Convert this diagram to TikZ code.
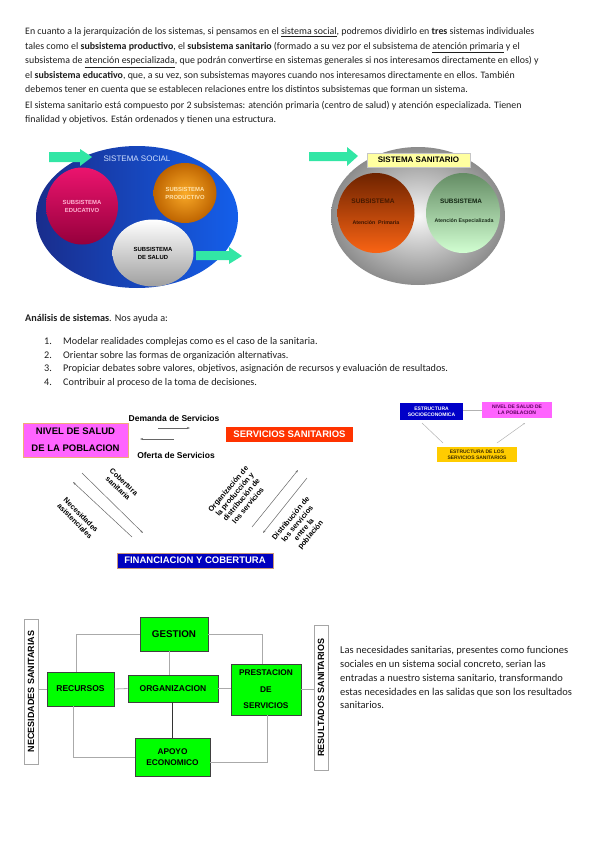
\documentclass[tikz,border=0pt]{standalone}
\usepackage{fontspec}
\setmainfont{Carlito}
\newfontfamily\arialf{Liberation Sans}
\usetikzlibrary{arrows.meta,shapes.geometric}
\definecolor{txt}{RGB}{30,30,30}
\definecolor{mint}{RGB}{50,230,165}
\definecolor{socdark}{RGB}{25,45,140}
\definecolor{socbright}{RGB}{20,95,235}
\definecolor{pinkA}{RGB}{235,20,110}
\definecolor{pinkB}{RGB}{150,0,60}
\definecolor{orgA}{RGB}{250,170,40}
\definecolor{orgB}{RGB}{190,100,0}
\definecolor{brA}{RGB}{110,35,0}
\definecolor{brB}{RGB}{250,100,20}
\definecolor{grA}{RGB}{100,140,100}
\definecolor{grB}{RGB}{210,255,210}
\definecolor{magbox}{RGB}{255,100,255}
\definecolor{redbox}{RGB}{255,51,0}
\definecolor{bluebox}{RGB}{0,0,190}
\definecolor{goldbox}{RGB}{255,204,0}
\definecolor{lime}{RGB}{0,255,0}
\definecolor{conn}{RGB}{170,170,170}
\begin{document}
\begin{tikzpicture}[x=1pt,y=-1pt,
  body/.style={anchor=base west, inner sep=0pt, text=txt, font=\fontsize{9.9}{11}\selectfont},
  listtxt/.style={anchor=base west, inner sep=0pt, text=txt, font=\fontsize{10.2}{11}\selectfont},
  sidetxt/.style={anchor=base west, inner sep=0pt, text=txt, font=\fontsize{10.5}{11}\selectfont},
  greenarrow/.style={fill=mint, draw=none},
  circ/.style={ellipse, inner sep=0pt, draw=none},
  lab/.style={font=\arialf\bfseries\fontsize{9.5}{11}\selectfont, inner sep=0pt},
  rotlab/.style={font=\arialf\bfseries\fontsize{7.4}{8.6}\selectfont, align=center, inner sep=0pt},
  thinarrow/.style={draw=gray!80!black, line width=0.5pt, -{Stealth[length=3pt,width=2pt]}},
  smallbox/.style={inner sep=0pt, align=center, font=\arialf\bfseries\fontsize{5}{6.2}\selectfont},
  gbox/.style={fill=lime, draw=black!75, line width=0.6pt, inner sep=0pt, align=center, font=\arialf\bfseries\fontsize{8.5}{10}\selectfont},
  vbox/.style={fill=white, draw=gray!70, line width=0.8pt, inner sep=0pt, minimum width=14pt, minimum height=145pt},
  gline/.style={draw=conn, line width=0.8pt},
  circtxt/.style={align=center, font=\arialf\bfseries\fontsize{5.9}{8}\selectfont}
]
\path[use as bounding box] (0,0) rectangle (599,848);

% ---------- paragraph 1 ----------
\node[body] (p1) at (25,35) {En cuanto a la jerarquización de los sistemas, si pensamos en el \underline{sistema social}, podremos dividirlo en \textbf{tres} sistemas individuales};
\node[body] (p2) at (25,49.5) {tales como el \textbf{subsistema productivo}, el \textbf{subsistema sanitario} (formado a su vez por el subsistema de \underline{atención primaria} y el};
\node[body] (p3) at (25,64) {subsistema de \underline{atención especializada}, que podrán convertirse en sistemas generales si nos interesamos directamente en ellos) y};
\node[body] (p4) at (25,78.5) {el \textbf{subsistema educativo}, que, a su vez, son subsistemas mayores cuando nos interesamos directamente en ellos. También};
\node[body] (p5) at (25,93) {debemos tener en cuenta que se establecen relaciones entre los distintos subsistemas que forman un sistema.};
\node[body] (q1) at (25,108.5) {El sistema sanitario está compuesto por 2 subsistemas: atención primaria (centro de salud) y atención especializada. Tienen};
\node[body] (q2) at (25,123) {finalidad y objetivos. Están ordenados y tienen una estructura.};

% ---------- sistema social ----------
\node[circ, minimum width=202pt, minimum height=142pt, left color=socdark, right color=socbright] (soc) at (137,217) {};
\node[font=\arialf\fontsize{8}{9}\selectfont, text={rgb,255:red,210;green,225;blue,255}, inner sep=0pt] (soct) at (137,159) {SISTEMA SOCIAL};
\node[circ, circtxt, minimum width=72pt, minimum height=77pt, top color=pinkA, bottom color=pinkB,
  text={rgb,255:red,255;green,180;blue,210}] (edu) at (82,206) {SUBSISTEMA\\EDUCATIVO};
\node[circ, circtxt, minimum width=63pt, minimum height=60pt, inner color=orgA, outer color=orgB,
  text={rgb,255:red,255;green,225;blue,170}] (prod) at (185,193) {SUBSISTEMA\\PRODUCTIVO};
\node[circ, circtxt, minimum width=81pt, minimum height=67pt, top color=white, bottom color=gray!75,
  text=black] (salud) at (153,253) {SUBSISTEMA\\DE SALUD};
\fill[greenarrow] (49,152) -- (80,152) -- (80,149) -- (92,157) -- (80,166) -- (80,162) -- (49,162) -- cycle;
\fill[greenarrow] (196,251) -- (229,251) -- (229,247) -- (242,256) -- (229,264) -- (229,260) -- (196,260) -- cycle;

% ---------- sistema sanitario ----------
\node[circ, minimum width=174pt, minimum height=138pt, inner color=white!94!gray, outer color=gray!90] (san) at (418,216) {};
\node[circ, minimum width=77pt, minimum height=80pt, top color=brA, bottom color=brB] (prim) at (376,213) {};
\node[circ, minimum width=74pt, minimum height=80pt, top color=grA, bottom color=grB] (esp) at (463,213) {};
\node[font=\arialf\bfseries\fontsize{6.6}{7}\selectfont, text={rgb,255:red,70;green,25;blue,0}, inner sep=0pt] (primt) at (373,201) {SUBSISTEMA};
\node[font=\arialf\bfseries\fontsize{5.3}{6}\selectfont, text={rgb,255:red,60;green,20;blue,0}, inner sep=0pt] (primu) at (376,223) {Atención\ \ Primaria};
\node[font=\arialf\bfseries\fontsize{6.4}{7}\selectfont, text={rgb,255:red,20;green,40;blue,20}, inner sep=0pt] (espt) at (461,201) {SUBSISTEMA};
\node[font=\arialf\bfseries\fontsize{5.3}{6}\selectfont, text={rgb,255:red,30;green,50;blue,30}, inner sep=0pt] (espu) at (464,221) {Atención Especializada};
\node[fill={rgb,255:red,255;green,255;blue,160}, draw=gray!45, minimum width=103pt, minimum height=14pt, inner sep=0pt,
  font=\arialf\bfseries\fontsize{8}{9}\selectfont] (santit) at (418.5,160) {SISTEMA SANITARIO};
\fill[greenarrow] (309,152) -- (347,152) -- (347,147) -- (358,156) -- (347,166) -- (347,161) -- (309,161) -- cycle;

% ---------- analisis ----------
\node[listtxt] (an) at (25,321.5) {\textbf{Análisis de sistemas}. Nos ayuda a:};
\node[listtxt] (n1) at (44,344.5) {1.};
\node[listtxt] (i1) at (63,344.5) {Modelar realidades complejas como es el caso de la sanitaria.};
\node[listtxt] (n2) at (44,358) {2.};
\node[listtxt] (i2) at (63,358) {Orientar sobre las formas de organización alternativas.};
\node[listtxt] (n3) at (44,371.5) {3.};
\node[listtxt] (i3) at (63,371.5) {Propiciar debates sobre valores, objetivos, asignación de recursos y evaluación de resultados.};
\node[listtxt] (n4) at (44,385) {4.};
\node[listtxt] (i4) at (63,385) {Contribuir al proceso de la toma de decisiones.};

% ---------- triangle diagram ----------
\node[lab, fill=magbox, draw={rgb,255:red,240;green,170;blue,120}, minimum width=105pt, minimum height=34pt, align=center,
  font=\arialf\bfseries\fontsize{9.5}{17}\selectfont] (nivel) at (75.5,440) {NIVEL DE SALUD\\DE LA POBLACION};
\node[lab, fill=redbox, text=white, minimum width=127pt, minimum height=15pt] (serv) at (289.5,434.5) {SERVICIOS SANITARIOS};
\node[lab, fill=bluebox, text=white, draw={rgb,255:red,200;green,150;blue,120}, minimum width=156pt, minimum height=15pt] (fin) at (195,560.5) {FINANCIACION Y COBERTURA};
\node[font=\arialf\bfseries\fontsize{8.5}{9}\selectfont, inner sep=0pt] (dem) at (174,418) {Demanda de Servicios};
\node[font=\arialf\bfseries\fontsize{8.5}{9}\selectfont, inner sep=0pt] (ofe) at (176,455) {Oferta de Servicios};
\coordinate (d1) at (158,428); \coordinate (d2) at (190,428);
\coordinate (o1) at (174,439); \coordinate (o2) at (140,439);
\draw[thinarrow] (d1) -- (d2);
\draw[thinarrow] (o1) -- (o2);
\coordinate (c1) at (82,473); \coordinate (c2) at (143,533);
\coordinate (m1) at (132,537); \coordinate (m2) at (73,482);
\coordinate (r1) at (252,527); \coordinate (r2) at (298,470);
\coordinate (s1) at (307,478); \coordinate (s2) at (263,533);
\draw[thinarrow] (c1) -- (c2);
\draw[thinarrow] (m1) -- (m2);
\draw[thinarrow] (r1) -- (r2);
\draw[thinarrow] (s1) -- (s2);
\node[rotlab, rotate=-43] (cob) at (121,485) {Cobertura\\sanitaria};
\node[rotlab, rotate=-45] (nece) at (78,518) {Necesidades\\asistenciales};
\node[rotlab, rotate=50] (orgl) at (238,497) {Organización de\\la producción y\\distribución de\\los servicios};
\node[rotlab, rotate=50] (dist) at (301,527) {Distribución de\\los servicios\\entre la\\población};

% ---------- small diagram ----------
\node[smallbox, fill={rgb,255:red,0;green,0;blue,200}, text=white, minimum width=63pt, minimum height=17pt] (est) at (431.5,411.5) {ESTRUCTURA\\SOCIOECONOMICA};
\node[smallbox, fill=magbox, text={rgb,255:red,90;green,0;blue,90}, minimum width=70pt, minimum height=16pt] (niv2) at (517,410) {NIVEL DE SALUD DE\\LA POBLACION};
\node[smallbox, fill=goldbox, text={rgb,255:red,60;green,45;blue,0}, minimum width=80pt, minimum height=15pt] (serv2) at (477,454.5) {ESTRUCTURA DE LOS\\SERVICIOS SANITARIOS};
\draw[draw=gray!60, line width=0.5pt] (est.east |- niv2.west) -- (niv2.west);
\coordinate (e1) at (422,423); \coordinate (e2) at (443,443);
\coordinate (e3) at (497,443); \coordinate (e4) at (525,423);
\draw[draw=gray!60, line width=0.5pt] (e1) -- (e2);
\draw[draw=gray!60, line width=0.5pt, -{Stealth[length=2pt,width=1.6pt]}] (e3) -- (e4);

% ---------- bottom diagram ----------
\node[vbox] (nec) at (31,691.5) {};
\node[rotate=90, font=\arialf\bfseries\fontsize{9}{10}\selectfont, inner sep=0pt] (nect) at (nec.center) {NECESIDADES SANITARIAS};
\node[vbox] (res) at (321,697.5) {};
\node[rotate=90, font=\arialf\bfseries\fontsize{9}{10}\selectfont, inner sep=0pt] (rest) at (res.center) {RESULTADOS SANITARIOS};
\node[gbox, minimum width=68pt, minimum height=34pt, font=\arialf\bfseries\fontsize{9.8}{11}\selectfont] (gest) at (174,634) {GESTION};
\node[gbox, minimum width=67pt, minimum height=34pt] (recu) at (80.5,689) {RECURSOS};
\node[gbox, minimum width=90pt, minimum height=27pt] (orga) at (173,688.5) {ORGANIZACION};
\node[gbox, minimum width=70pt, minimum height=51pt, font=\arialf\bfseries\fontsize{8.3}{16.5}\selectfont] (pres) at (266,689.5) {PRESTACION\\DE\\SERVICIOS};
\node[gbox, minimum width=75pt, minimum height=38pt, font=\arialf\bfseries\fontsize{8.3}{11}\selectfont] (apoyo) at (172.5,757) {APOYO\\ECONOMICO};
\draw[gline] (gest.west) -| ([xshift=-4.5pt]recu.north);
\draw[gline] (gest.east) -| ([xshift=-4pt]pres.north);
\draw[gline] ([xshift=-5pt]gest.south) -- ([xshift=-4pt]orga.north);
\draw[gline] (recu.east) -- (orga.west);
\draw[gline] (orga.east) -- (orga.east -| pres.west);
\draw[draw=black!80, line width=0.9pt] ([xshift=-1pt]orga.south) -- ([xshift=-0.5pt]apoyo.north);
\draw[gline] ([xshift=-7.5pt]recu.south) |- (apoyo.west);
\draw[gline] ([xshift=1pt]pres.south) |- ([yshift=-5pt]apoyo.east);
\draw[gline] (recu.west -| nec.east) -- (recu.west);
\draw[gline] (pres.east) -- (pres.east -| res.west);

% ---------- side text ----------
\node[sidetxt] (t1) at (340,653) {Las necesidades sanitarias, presentes como funciones};
\node[sidetxt] (t2) at (340,667) {sociales en un sistema social concreto, serian las};
\node[sidetxt] (t3) at (340,681) {entradas a nuestro sistema sanitario, transformando};
\node[sidetxt] (t4) at (340,695) {estas necesidades en las salidas que son los resultados};
\node[sidetxt] (t5) at (340,708.5) {sanitarios.};
\end{tikzpicture}
\end{document}
